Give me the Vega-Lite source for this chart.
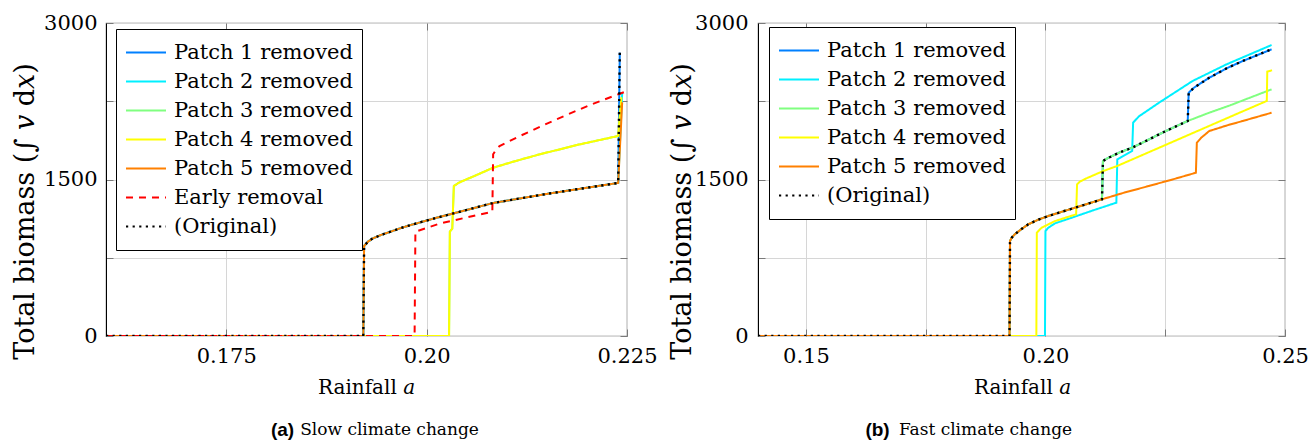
{
  "$schema": "https://vega.github.io/schema/vega-lite/v6.json",
  "autosize": {"type": "pad"},
  "padding": {"left": 10, "top": 11, "right": 5, "bottom": 0},
  "spacing": 131,
  "bounds": "flush",
  "resolve": {"scale": {"color": "independent", "strokeDash": "independent"}, "legend": {"color": "independent", "strokeDash": "independent"}},
  "config": {
    "view": {"stroke": "#7a7a7a", "strokeWidth": 1.2},
    "font": "DejaVu Serif",
    "axis": {"labelFont": "DejaVu Serif", "labelFontSize": 21, "labelColor": "black", "titleFont": "DejaVu Serif", "titleFontSize": 20, "titleFontWeight": "normal", "titleColor": "black", "labelFlush": false, "labelOverlap": false, "tickColor": "#7a7a7a", "gridColor": "#d6d6d6", "gridWidth": 1},
    "legend": {"strokeColor": "black", "fillColor": "white", "padding": 9, "cornerRadius": 0, "symbolType": "stroke", "symbolSize": 1600, "symbolStrokeWidth": 2, "labelFont": "DejaVu Serif", "labelFontSize": 21, "labelColor": "black", "labelOffset": 7, "rowPadding": 0, "clipHeight": 29, "labelLimit": 400}
  },
  "datasets": {
    "slow": [
      {"series": "Patch 1 removed", "a": 0.16, "v": 0}, {"series": "Patch 1 removed", "a": 0.1921, "v": 0}, {"series": "Patch 1 removed", "a": 0.1922, "v": 863}, {"series": "Patch 1 removed", "a": 0.1927, "v": 905}, {"series": "Patch 1 removed", "a": 0.1933, "v": 936}, {"series": "Patch 1 removed", "a": 0.1943, "v": 968}, {"series": "Patch 1 removed", "a": 0.1954, "v": 997}, {"series": "Patch 1 removed", "a": 0.1968, "v": 1035}, {"series": "Patch 1 removed", "a": 0.1983, "v": 1070}, {"series": "Patch 1 removed", "a": 0.201, "v": 1128}, {"series": "Patch 1 removed", "a": 0.2037, "v": 1182}, {"series": "Patch 1 removed", "a": 0.2083, "v": 1275}, {"series": "Patch 1 removed", "a": 0.215, "v": 1362}, {"series": "Patch 1 removed", "a": 0.22, "v": 1421}, {"series": "Patch 1 removed", "a": 0.2239, "v": 1467}, {"series": "Patch 1 removed", "a": 0.2241, "v": 2716},
      {"series": "Patch 2 removed", "a": 0.16, "v": 0}, {"series": "Patch 2 removed", "a": 0.1921, "v": 0}, {"series": "Patch 2 removed", "a": 0.1922, "v": 863}, {"series": "Patch 2 removed", "a": 0.1927, "v": 905}, {"series": "Patch 2 removed", "a": 0.1933, "v": 936}, {"series": "Patch 2 removed", "a": 0.1943, "v": 968}, {"series": "Patch 2 removed", "a": 0.1954, "v": 997}, {"series": "Patch 2 removed", "a": 0.1968, "v": 1035}, {"series": "Patch 2 removed", "a": 0.1983, "v": 1070}, {"series": "Patch 2 removed", "a": 0.201, "v": 1128}, {"series": "Patch 2 removed", "a": 0.2037, "v": 1182}, {"series": "Patch 2 removed", "a": 0.2083, "v": 1275}, {"series": "Patch 2 removed", "a": 0.215, "v": 1362}, {"series": "Patch 2 removed", "a": 0.22, "v": 1421}, {"series": "Patch 2 removed", "a": 0.2239, "v": 1467}, {"series": "Patch 2 removed", "a": 0.2244, "v": 2330},
      {"series": "Patch 3 removed", "a": 0.16, "v": 0}, {"series": "Patch 3 removed", "a": 0.2028, "v": 0}, {"series": "Patch 3 removed", "a": 0.2029, "v": 1000}, {"series": "Patch 3 removed", "a": 0.2032, "v": 1030}, {"series": "Patch 3 removed", "a": 0.2034, "v": 1438}, {"series": "Patch 3 removed", "a": 0.204, "v": 1468}, {"series": "Patch 3 removed", "a": 0.2045, "v": 1486}, {"series": "Patch 3 removed", "a": 0.206, "v": 1535}, {"series": "Patch 3 removed", "a": 0.2083, "v": 1613}, {"series": "Patch 3 removed", "a": 0.211, "v": 1675}, {"series": "Patch 3 removed", "a": 0.2141, "v": 1741}, {"series": "Patch 3 removed", "a": 0.219, "v": 1835}, {"series": "Patch 3 removed", "a": 0.2239, "v": 1917}, {"series": "Patch 3 removed", "a": 0.2243, "v": 2280},
      {"series": "Patch 4 removed", "a": 0.16, "v": 0}, {"series": "Patch 4 removed", "a": 0.2028, "v": 0}, {"series": "Patch 4 removed", "a": 0.2029, "v": 1000}, {"series": "Patch 4 removed", "a": 0.2032, "v": 1030}, {"series": "Patch 4 removed", "a": 0.2034, "v": 1438}, {"series": "Patch 4 removed", "a": 0.204, "v": 1468}, {"series": "Patch 4 removed", "a": 0.2045, "v": 1486}, {"series": "Patch 4 removed", "a": 0.206, "v": 1535}, {"series": "Patch 4 removed", "a": 0.2083, "v": 1613}, {"series": "Patch 4 removed", "a": 0.211, "v": 1675}, {"series": "Patch 4 removed", "a": 0.2141, "v": 1741}, {"series": "Patch 4 removed", "a": 0.219, "v": 1835}, {"series": "Patch 4 removed", "a": 0.2239, "v": 1917}, {"series": "Patch 4 removed", "a": 0.2243, "v": 2290},
      {"series": "Patch 5 removed", "a": 0.16, "v": 0}, {"series": "Patch 5 removed", "a": 0.1921, "v": 0}, {"series": "Patch 5 removed", "a": 0.1922, "v": 863}, {"series": "Patch 5 removed", "a": 0.1927, "v": 905}, {"series": "Patch 5 removed", "a": 0.1933, "v": 936}, {"series": "Patch 5 removed", "a": 0.1943, "v": 968}, {"series": "Patch 5 removed", "a": 0.1954, "v": 997}, {"series": "Patch 5 removed", "a": 0.1968, "v": 1035}, {"series": "Patch 5 removed", "a": 0.1983, "v": 1070}, {"series": "Patch 5 removed", "a": 0.201, "v": 1128}, {"series": "Patch 5 removed", "a": 0.2037, "v": 1182}, {"series": "Patch 5 removed", "a": 0.2083, "v": 1275}, {"series": "Patch 5 removed", "a": 0.215, "v": 1362}, {"series": "Patch 5 removed", "a": 0.22, "v": 1421}, {"series": "Patch 5 removed", "a": 0.2239, "v": 1467}, {"series": "Patch 5 removed", "a": 0.2244, "v": 2240},
      {"series": "Early removal", "a": 0.16, "v": 0}, {"series": "Early removal", "a": 0.1985, "v": 0}, {"series": "Early removal", "a": 0.1986, "v": 1000}, {"series": "Early removal", "a": 0.2016, "v": 1077}, {"series": "Early removal", "a": 0.2058, "v": 1150}, {"series": "Early removal", "a": 0.2082, "v": 1191}, {"series": "Early removal", "a": 0.2083, "v": 1742}, {"series": "Early removal", "a": 0.2087, "v": 1790}, {"series": "Early removal", "a": 0.2091, "v": 1821}, {"series": "Early removal", "a": 0.2112, "v": 1901}, {"series": "Early removal", "a": 0.2162, "v": 2077}, {"series": "Early removal", "a": 0.2204, "v": 2215}, {"series": "Early removal", "a": 0.2241, "v": 2322}, {"series": "Early removal", "a": 0.225, "v": 2348},
      {"series": "(Original)", "a": 0.16, "v": 0}, {"series": "(Original)", "a": 0.1921, "v": 0}, {"series": "(Original)", "a": 0.1922, "v": 863}, {"series": "(Original)", "a": 0.1927, "v": 905}, {"series": "(Original)", "a": 0.1933, "v": 936}, {"series": "(Original)", "a": 0.1943, "v": 968}, {"series": "(Original)", "a": 0.1954, "v": 997}, {"series": "(Original)", "a": 0.1968, "v": 1035}, {"series": "(Original)", "a": 0.1983, "v": 1070}, {"series": "(Original)", "a": 0.201, "v": 1128}, {"series": "(Original)", "a": 0.2037, "v": 1182}, {"series": "(Original)", "a": 0.2083, "v": 1275}, {"series": "(Original)", "a": 0.215, "v": 1362}, {"series": "(Original)", "a": 0.22, "v": 1421}, {"series": "(Original)", "a": 0.2239, "v": 1467}, {"series": "(Original)", "a": 0.2241, "v": 2716}
    ],
    "fast": [
      {"series": "Patch 1 removed", "a": 0.14, "v": 0}, {"series": "Patch 1 removed", "a": 0.1925, "v": 0}, {"series": "Patch 1 removed", "a": 0.1926, "v": 911}, {"series": "Patch 1 removed", "a": 0.193, "v": 945}, {"series": "Patch 1 removed", "a": 0.1936, "v": 975}, {"series": "Patch 1 removed", "a": 0.195, "v": 1025}, {"series": "Patch 1 removed", "a": 0.1964, "v": 1070}, {"series": "Patch 1 removed", "a": 0.1985, "v": 1115}, {"series": "Patch 1 removed", "a": 0.2006, "v": 1150}, {"series": "Patch 1 removed", "a": 0.2035, "v": 1192}, {"series": "Patch 1 removed", "a": 0.2062, "v": 1230}, {"series": "Patch 1 removed", "a": 0.209, "v": 1270}, {"series": "Patch 1 removed", "a": 0.2118, "v": 1310}, {"series": "Patch 1 removed", "a": 0.212, "v": 1677}, {"series": "Patch 1 removed", "a": 0.2132, "v": 1709}, {"series": "Patch 1 removed", "a": 0.2155, "v": 1760}, {"series": "Patch 1 removed", "a": 0.2181, "v": 1805}, {"series": "Patch 1 removed", "a": 0.221, "v": 1870}, {"series": "Patch 1 removed", "a": 0.2237, "v": 1933}, {"series": "Patch 1 removed", "a": 0.2268, "v": 2000}, {"series": "Patch 1 removed", "a": 0.2297, "v": 2061}, {"series": "Patch 1 removed", "a": 0.2299, "v": 2332}, {"series": "Patch 1 removed", "a": 0.231, "v": 2380}, {"series": "Patch 1 removed", "a": 0.2342, "v": 2476}, {"series": "Patch 1 removed", "a": 0.238, "v": 2570}, {"series": "Patch 1 removed", "a": 0.2412, "v": 2636}, {"series": "Patch 1 removed", "a": 0.2472, "v": 2748},
      {"series": "Patch 2 removed", "a": 0.14, "v": 0}, {"series": "Patch 2 removed", "a": 0.1999, "v": 0}, {"series": "Patch 2 removed", "a": 0.2, "v": 1006}, {"series": "Patch 2 removed", "a": 0.2006, "v": 1038}, {"series": "Patch 2 removed", "a": 0.202, "v": 1080}, {"series": "Patch 2 removed", "a": 0.2055, "v": 1134}, {"series": "Patch 2 removed", "a": 0.21, "v": 1205}, {"series": "Patch 2 removed", "a": 0.2148, "v": 1278}, {"series": "Patch 2 removed", "a": 0.215, "v": 1693}, {"series": "Patch 2 removed", "a": 0.216, "v": 1720}, {"series": "Patch 2 removed", "a": 0.2181, "v": 1773}, {"series": "Patch 2 removed", "a": 0.2183, "v": 2045}, {"series": "Patch 2 removed", "a": 0.219, "v": 2080}, {"series": "Patch 2 removed", "a": 0.2195, "v": 2105}, {"series": "Patch 2 removed", "a": 0.2237, "v": 2236}, {"series": "Patch 2 removed", "a": 0.2307, "v": 2444}, {"series": "Patch 2 removed", "a": 0.2378, "v": 2604}, {"series": "Patch 2 removed", "a": 0.2472, "v": 2789},
      {"series": "Patch 3 removed", "a": 0.14, "v": 0}, {"series": "Patch 3 removed", "a": 0.1925, "v": 0}, {"series": "Patch 3 removed", "a": 0.1926, "v": 911}, {"series": "Patch 3 removed", "a": 0.193, "v": 945}, {"series": "Patch 3 removed", "a": 0.1936, "v": 975}, {"series": "Patch 3 removed", "a": 0.195, "v": 1025}, {"series": "Patch 3 removed", "a": 0.1964, "v": 1070}, {"series": "Patch 3 removed", "a": 0.1985, "v": 1115}, {"series": "Patch 3 removed", "a": 0.2006, "v": 1150}, {"series": "Patch 3 removed", "a": 0.2035, "v": 1192}, {"series": "Patch 3 removed", "a": 0.2062, "v": 1230}, {"series": "Patch 3 removed", "a": 0.209, "v": 1270}, {"series": "Patch 3 removed", "a": 0.2118, "v": 1310}, {"series": "Patch 3 removed", "a": 0.212, "v": 1677}, {"series": "Patch 3 removed", "a": 0.2132, "v": 1709}, {"series": "Patch 3 removed", "a": 0.2155, "v": 1760}, {"series": "Patch 3 removed", "a": 0.2181, "v": 1805}, {"series": "Patch 3 removed", "a": 0.221, "v": 1870}, {"series": "Patch 3 removed", "a": 0.2237, "v": 1933}, {"series": "Patch 3 removed", "a": 0.2268, "v": 2000}, {"series": "Patch 3 removed", "a": 0.2297, "v": 2061}, {"series": "Patch 3 removed", "a": 0.234, "v": 2137}, {"series": "Patch 3 removed", "a": 0.2385, "v": 2210}, {"series": "Patch 3 removed", "a": 0.243, "v": 2290}, {"series": "Patch 3 removed", "a": 0.2472, "v": 2364},
      {"series": "Patch 4 removed", "a": 0.14, "v": 0}, {"series": "Patch 4 removed", "a": 0.1981, "v": 0}, {"series": "Patch 4 removed", "a": 0.1982, "v": 990}, {"series": "Patch 4 removed", "a": 0.1988, "v": 1020}, {"series": "Patch 4 removed", "a": 0.1992, "v": 1038}, {"series": "Patch 4 removed", "a": 0.202, "v": 1102}, {"series": "Patch 4 removed", "a": 0.2064, "v": 1166}, {"series": "Patch 4 removed", "a": 0.2066, "v": 1454}, {"series": "Patch 4 removed", "a": 0.2072, "v": 1480}, {"series": "Patch 4 removed", "a": 0.2085, "v": 1510}, {"series": "Patch 4 removed", "a": 0.212, "v": 1580}, {"series": "Patch 4 removed", "a": 0.215, "v": 1630}, {"series": "Patch 4 removed", "a": 0.22, "v": 1730}, {"series": "Patch 4 removed", "a": 0.225, "v": 1830}, {"series": "Patch 4 removed", "a": 0.23, "v": 1930}, {"series": "Patch 4 removed", "a": 0.235, "v": 2030}, {"series": "Patch 4 removed", "a": 0.24, "v": 2130}, {"series": "Patch 4 removed", "a": 0.2462, "v": 2253}, {"series": "Patch 4 removed", "a": 0.2463, "v": 2534}, {"series": "Patch 4 removed", "a": 0.2473, "v": 2547},
      {"series": "Patch 5 removed", "a": 0.14, "v": 0}, {"series": "Patch 5 removed", "a": 0.1925, "v": 0}, {"series": "Patch 5 removed", "a": 0.1926, "v": 911}, {"series": "Patch 5 removed", "a": 0.193, "v": 945}, {"series": "Patch 5 removed", "a": 0.1936, "v": 975}, {"series": "Patch 5 removed", "a": 0.195, "v": 1025}, {"series": "Patch 5 removed", "a": 0.1964, "v": 1070}, {"series": "Patch 5 removed", "a": 0.1985, "v": 1115}, {"series": "Patch 5 removed", "a": 0.2006, "v": 1150}, {"series": "Patch 5 removed", "a": 0.2035, "v": 1192}, {"series": "Patch 5 removed", "a": 0.2062, "v": 1230}, {"series": "Patch 5 removed", "a": 0.209, "v": 1270}, {"series": "Patch 5 removed", "a": 0.2118, "v": 1310}, {"series": "Patch 5 removed", "a": 0.2165, "v": 1375}, {"series": "Patch 5 removed", "a": 0.2216, "v": 1438}, {"series": "Patch 5 removed", "a": 0.2265, "v": 1500}, {"series": "Patch 5 removed", "a": 0.2314, "v": 1565}, {"series": "Patch 5 removed", "a": 0.2316, "v": 1853}, {"series": "Patch 5 removed", "a": 0.2325, "v": 1900}, {"series": "Patch 5 removed", "a": 0.2342, "v": 1965}, {"series": "Patch 5 removed", "a": 0.238, "v": 2020}, {"series": "Patch 5 removed", "a": 0.2412, "v": 2061}, {"series": "Patch 5 removed", "a": 0.2472, "v": 2140},
      {"series": "(Original)", "a": 0.14, "v": 0}, {"series": "(Original)", "a": 0.1925, "v": 0}, {"series": "(Original)", "a": 0.1926, "v": 911}, {"series": "(Original)", "a": 0.193, "v": 945}, {"series": "(Original)", "a": 0.1936, "v": 975}, {"series": "(Original)", "a": 0.195, "v": 1025}, {"series": "(Original)", "a": 0.1964, "v": 1070}, {"series": "(Original)", "a": 0.1985, "v": 1115}, {"series": "(Original)", "a": 0.2006, "v": 1150}, {"series": "(Original)", "a": 0.2035, "v": 1192}, {"series": "(Original)", "a": 0.2062, "v": 1230}, {"series": "(Original)", "a": 0.209, "v": 1270}, {"series": "(Original)", "a": 0.2118, "v": 1310}, {"series": "(Original)", "a": 0.212, "v": 1677}, {"series": "(Original)", "a": 0.2132, "v": 1709}, {"series": "(Original)", "a": 0.2155, "v": 1760}, {"series": "(Original)", "a": 0.2181, "v": 1805}, {"series": "(Original)", "a": 0.221, "v": 1870}, {"series": "(Original)", "a": 0.2237, "v": 1933}, {"series": "(Original)", "a": 0.2268, "v": 2000}, {"series": "(Original)", "a": 0.2297, "v": 2061}, {"series": "(Original)", "a": 0.2299, "v": 2332}, {"series": "(Original)", "a": 0.231, "v": 2380}, {"series": "(Original)", "a": 0.2342, "v": 2476}, {"series": "(Original)", "a": 0.238, "v": 2570}, {"series": "(Original)", "a": 0.2412, "v": 2636}, {"series": "(Original)", "a": 0.2472, "v": 2748}
    ]
  },
  "hconcat": [
    {
      "width": 521,
      "height": 313,
      "data": {"name": "slow"},
      "encoding": {
        "x": {"field": "a", "type": "quantitative", "scale": {"domain": [0.16, 0.225], "nice": false, "zero": false}},
        "y": {"field": "v", "type": "quantitative", "scale": {"domain": [0, 3000], "nice": false}},
        "color": {"field": "series", "type": "nominal", "title": null,
          "scale": {"domain": ["Patch 1 removed", "Patch 2 removed", "Patch 3 removed", "Patch 4 removed", "Patch 5 removed", "Early removal", "(Original)"], "range": ["#0080ff", "#00f0ff", "#80ff80", "#ffff00", "#ff8000", "#ff0000", "#000000"]},
          "legend": {"orient": "none", "legendX": 10, "legendY": 6}},
        "strokeDash": {"field": "series", "type": "nominal", "title": null,
          "scale": {"domain": ["Patch 1 removed", "Patch 2 removed", "Patch 3 removed", "Patch 4 removed", "Patch 5 removed", "Early removal", "(Original)"], "range": [[1, 0], [1, 0], [1, 0], [1, 0], [1, 0], [7, 6], [2.2, 4.4]]},
          "legend": {"orient": "none", "legendX": 10, "legendY": 6}}
      },
      "layer": [
        {
          "transform": [{"filter": "indexof(datum.series, 'Patch') == 0"}],
          "mark": {"type": "line", "strokeWidth": 2, "clip": true},
          "encoding": {
            "x": {"field": "a", "type": "quantitative", "axis": {"orient": "bottom", "values": [0.175, 0.2, 0.225], "format": ".3f", "labelExpr": "datum.value == 0.2 ? '0.20' : datum.label", "grid": true, "tickSize": -7, "domain": false, "labelPadding": 16, "title": "Rainfall 𝑎", "titleX": 260, "titleY": 51, "titleBaseline": "middle", "titleAlign": "center"}},
            "y": {"field": "v", "type": "quantitative", "axis": {"orient": "left", "values": [0, 750, 1500, 2250, 3000], "format": "d", "labelExpr": "datum.value % 1500 == 0 ? datum.label : ''", "grid": true, "tickSize": -7, "domain": true, "domainColor": "black", "labelPadding": 16, "labelBaseline": "middle", "title": "Total biomass (∫ 𝑣 d𝑥)", "titleFontSize": 27, "titleX": -81, "titleY": 188, "titleAngle": -90, "titleBaseline": "middle", "titleAlign": "center"}}
          }
        },
        {
          "transform": [{"filter": "datum.series == 'Early removal'"}],
          "mark": {"type": "line", "strokeWidth": 2, "clip": true},
          "encoding": {
            "x": {"field": "a", "type": "quantitative", "axis": {"orient": "top", "values": [0.175, 0.2, 0.225], "labels": false, "grid": false, "tickSize": -7, "domain": false, "title": null}},
            "y": {"field": "v", "type": "quantitative", "axis": {"orient": "right", "values": [0, 750, 1500, 2250, 3000], "labels": false, "grid": false, "tickSize": -7, "domain": false, "title": null}}
          }
        },
        {
          "transform": [{"filter": "datum.series == '(Original)'"}],
          "mark": {"type": "line", "strokeWidth": 2.4, "clip": true},
          "encoding": {
            "x": {"field": "a", "type": "quantitative", "axis": {"orient": "bottom", "labels": false, "ticks": false, "grid": false, "domain": false, "title": "Slow climate change", "titleFontSize": 17, "titleX": 283, "titleY": 93, "titleBaseline": "middle", "titleAlign": "center"}},
            "y": {"field": "v", "type": "quantitative", "axis": {"orient": "left", "labels": false, "ticks": false, "grid": false, "domain": false, "title": "(a)", "titleAngle": 0, "titleX": 176, "titleY": 406, "titleFont": "Liberation Sans", "titleFontWeight": "bold", "titleFontSize": 19, "titleBaseline": "middle", "titleAlign": "center"}}
          }
        }
      ],
      "resolve": {"axis": {"x": "independent", "y": "independent"}}
    },
    {
      "width": 527,
      "height": 313,
      "data": {"name": "fast"},
      "encoding": {
        "x": {"field": "a", "type": "quantitative", "scale": {"domain": [0.14, 0.25], "nice": false, "zero": false}},
        "y": {"field": "v", "type": "quantitative", "scale": {"domain": [0, 3000], "nice": false}},
        "color": {"field": "series", "type": "nominal", "title": null,
          "scale": {"domain": ["Patch 1 removed", "Patch 2 removed", "Patch 3 removed", "Patch 4 removed", "Patch 5 removed", "(Original)"], "range": ["#0080ff", "#00f0ff", "#80ff80", "#ffff00", "#ff8000", "#000000"]},
          "legend": {"orient": "none", "legendX": 11, "legendY": 4}},
        "strokeDash": {"field": "series", "type": "nominal", "title": null,
          "scale": {"domain": ["Patch 1 removed", "Patch 2 removed", "Patch 3 removed", "Patch 4 removed", "Patch 5 removed", "(Original)"], "range": [[1, 0], [1, 0], [1, 0], [1, 0], [1, 0], [2.2, 4.4]]},
          "legend": {"orient": "none", "legendX": 11, "legendY": 4}}
      },
      "layer": [
        {
          "transform": [{"filter": "indexof(datum.series, 'Patch') == 0 && datum.series != 'Patch 5 removed'"}],
          "mark": {"type": "line", "strokeWidth": 2, "clip": true},
          "encoding": {
            "x": {"field": "a", "type": "quantitative", "axis": {"orient": "bottom", "values": [0.15, 0.175, 0.2, 0.225, 0.25], "labelExpr": "datum.value < 0.16 ? '0.15' : (abs(datum.value - 0.2) < 0.001 ? '0.20' : (abs(datum.value - 0.25) < 0.001 ? '0.25' : ''))", "grid": true, "tickSize": -7, "domain": false, "labelPadding": 16, "title": "Rainfall 𝑎", "titleX": 264, "titleY": 51, "titleBaseline": "middle", "titleAlign": "center"}},
            "y": {"field": "v", "type": "quantitative", "axis": {"orient": "left", "values": [0, 750, 1500, 2250, 3000], "format": "d", "labelExpr": "datum.value % 1500 == 0 ? datum.label : ''", "grid": true, "tickSize": -7, "domain": true, "domainColor": "black", "labelPadding": 17, "labelBaseline": "middle", "title": "Total biomass (∫ 𝑣 d𝑥)", "titleFontSize": 27, "titleX": -76, "titleY": 188, "titleAngle": -90, "titleBaseline": "middle", "titleAlign": "center"}}
          }
        },
        {
          "transform": [{"filter": "datum.series == 'Patch 5 removed'"}],
          "mark": {"type": "line", "strokeWidth": 2, "clip": true},
          "encoding": {
            "x": {"field": "a", "type": "quantitative", "axis": {"orient": "top", "values": [0.15, 0.175, 0.2, 0.225, 0.25], "labels": false, "grid": false, "tickSize": -7, "domain": false, "title": null}},
            "y": {"field": "v", "type": "quantitative", "axis": {"orient": "right", "values": [0, 750, 1500, 2250, 3000], "labels": false, "grid": false, "tickSize": -7, "domain": false, "title": null}}
          }
        },
        {
          "transform": [{"filter": "datum.series == '(Original)'"}],
          "mark": {"type": "line", "strokeWidth": 2.4, "clip": true},
          "encoding": {
            "x": {"field": "a", "type": "quantitative", "axis": {"orient": "bottom", "labels": false, "ticks": false, "grid": false, "domain": false, "title": "Fast climate change", "titleFontSize": 17, "titleX": 227, "titleY": 93, "titleBaseline": "middle", "titleAlign": "center"}},
            "y": {"field": "v", "type": "quantitative", "axis": {"orient": "left", "labels": false, "ticks": false, "grid": false, "domain": false, "title": "(b)", "titleAngle": 0, "titleX": 119, "titleY": 406, "titleFont": "Liberation Sans", "titleFontWeight": "bold", "titleFontSize": 19, "titleBaseline": "middle", "titleAlign": "center"}}
          }
        }
      ],
      "resolve": {"axis": {"x": "independent", "y": "independent"}}
    }
  ]
}
